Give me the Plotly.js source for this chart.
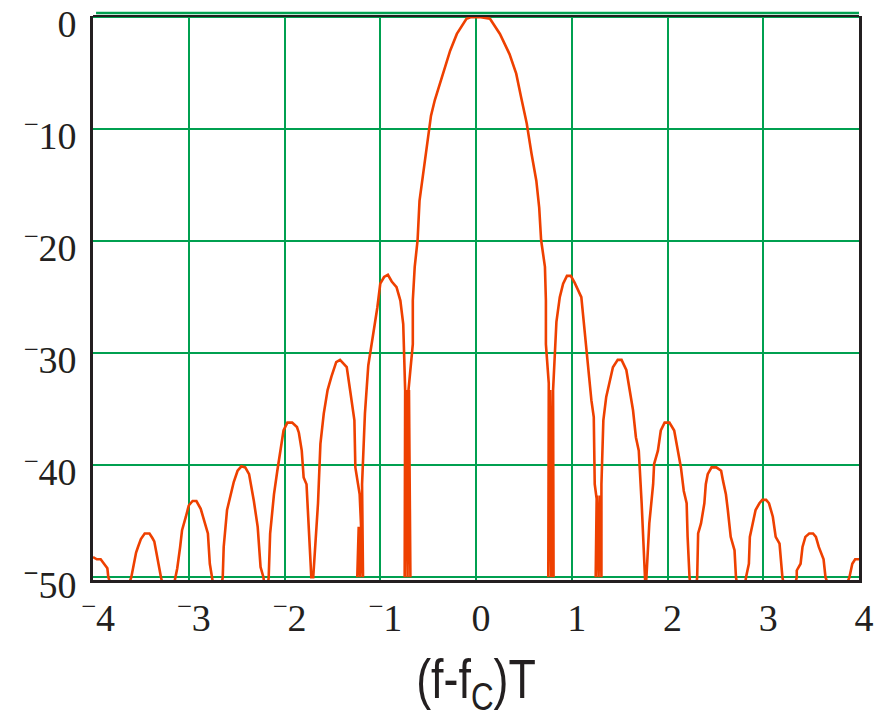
<!DOCTYPE html>
<html>
<head>
<meta charset="utf-8">
<script src="https://cdn.plot.ly/plotly-3.0.1.min.js"></script>
<style>html,body{margin:0;padding:0;background:#fff;}#chart{width:883px;height:724px;}</style>
</head>
<body>
<div id="chart"></div>
<script>
// Normalized frequency (f - fc)T
var freq = [
  -4.00,-3.96,-3.92,-3.88,-3.85,-3.84,-3.72,
  -3.60,-3.57,-3.55,-3.53,-3.50,-3.46,-3.41,-3.38,-3.36,-3.34,-3.31,-3.29,-3.21,
  -3.135,-3.12,-3.09,-3.07,-3.03,-3.00,-2.96,-2.92,-2.875,-2.84,-2.80,-2.78,-2.76,-2.70,
  -2.645,-2.635,-2.60,-2.56,-2.53,-2.49,-2.45,-2.41,-2.37,-2.32,-2.28,-2.25,-2.22,-2.19,
  -2.165,-2.15,-2.11,-2.075,-2.04,-2.01,-1.97,-1.92,-1.87,-1.85,-1.82,-1.80,-1.77,-1.74,-1.72,-1.71,
  -1.70,-1.65,-1.625,-1.59,-1.55,-1.51,-1.46,-1.42,-1.38,-1.35,-1.31,-1.27,-1.26,-1.215,-1.20,
  -1.24,-1.225,-1.21,-1.195,-1.18,
  -1.19,-1.16,-1.125,-1.07,-1.03,-1.00,-0.96,-0.92,-0.88,-0.83,-0.79,-0.76,-0.74,
  -0.745,-0.73,-0.715,-0.70,-0.685,
  -0.705,-0.66,-0.66,-0.64,-0.61,-0.59,-0.55,-0.52,-0.49,-0.47,-0.43,-0.39,-0.34,-0.27,-0.20,-0.10,-0.05,
  0.05,0.146,0.25,0.35,0.42,0.47,0.53,0.58,0.63,0.66,0.68,0.72,0.73,0.73,0.76,
  0.755,0.77,0.785,0.80,0.81,
  0.805,0.84,0.875,0.91,0.95,0.99,1.03,1.10,1.135,1.17,1.205,1.23,1.24,1.26,
  1.25,1.265,1.28,1.295,1.31,
  1.31,1.33,1.36,1.40,1.43,1.48,1.52,1.57,1.60,1.64,1.67,1.70,1.73,1.76,1.77,
  1.78,1.80,1.81,1.85,1.86,1.90,1.93,1.97,2.02,2.07,2.11,2.14,2.17,2.20,2.21,2.23,2.27,
  2.31,2.32,2.35,2.385,2.40,2.42,2.46,2.51,2.56,2.58,2.61,2.63,2.66,2.70,2.715,2.77,
  2.82,2.85,2.86,2.89,2.92,2.96,2.99,3.03,3.06,3.10,3.13,3.17,3.20,3.27,
  3.35,3.35,3.39,3.41,3.44,3.48,3.52,3.55,3.58,3.63,3.65,3.77,
  3.90,3.93,3.96,4.00
];
// Power spectral density, dB
var psd = [
  -48.2,-48.4,-48.4,-48.8,-49.2,-50,-53,
  -50,-48.5,-47.8,-47.3,-46.6,-46.1,-46.1,-46.5,-46.8,-47.7,-49.1,-50,-53,
  -50,-49.2,-47.3,-45.8,-44.6,-43.6,-43.2,-43.2,-43.9,-44.9,-46.1,-48.8,-50,-53,
  -50,-47.3,-44.0,-42.6,-41.5,-40.5,-40.1,-40.2,-40.8,-43.2,-45.5,-49.1,-50,-52,
  -50,-46.1,-42.6,-40.5,-38.7,-36.9,-36.2,-36.2,-36.6,-37.1,-38.7,-41.1,-41.7,-46.4,-50,-50,
  -50,-43.4,-38.1,-35.4,-33.3,-32.1,-30.8,-30.6,-31.0,-31.25,-33.6,-36.0,-40.2,-42.6,-45.5,
  -50,-45.5,-50,-45.5,-50,
  -41.7,-35.4,-31.1,-28.3,-25.9,-23.8,-23.2,-23.0,-23.6,-24.1,-25.3,-27.4,-33.3,
  -50,-33.3,-50,-33.3,-50,
  -33.3,-29.2,-25.3,-22.3,-19.9,-16.4,-14.0,-12.2,-10.1,-8.8,-7.4,-6.25,-4.8,-3.0,-1.5,-0.15,0,
  0,-0.15,-1.5,-3.3,-5.05,-7.1,-9.5,-12.2,-14.6,-17.0,-19.9,-22.3,-25.3,-29.2,-32.7,
  -50,-33.3,-50,-33.3,-50,
  -33.3,-27.2,-25.0,-23.8,-23.1,-23.1,-23.7,-25.0,-28.3,-30.9,-34.2,-35.7,-41.7,-43.0,
  -50,-42.7,-50,-42.7,-50,
  -41.7,-36.0,-33.9,-32.4,-31.25,-30.6,-30.6,-31.5,-33.0,-35.1,-37.5,-38.7,-43.4,-50,-51,
  -50,-46.4,-45.2,-41.7,-39.9,-38.7,-36.9,-36.2,-36.2,-36.9,-38.7,-40.2,-42.3,-43.4,-46.4,-50,-53,
  -50,-46.1,-45.2,-43.4,-41.7,-40.8,-40.2,-40.2,-40.5,-41.4,-42.6,-44.0,-46.4,-47.6,-50,-53,
  -50,-48.8,-46.4,-45.2,-44.0,-43.4,-43.1,-43.1,-43.4,-44.6,-46.4,-47.0,-50,-53,
  -50,-49.4,-48.8,-47.3,-46.4,-46.1,-46.1,-46.4,-47.3,-48.4,-50,-53,
  -50,-48.8,-48.4,-48.4
];
var xTickVals = [-4,-3,-2,-1,0,1,2,3,4];
var xTickText = ['<sup>−</sup>4','<sup>−</sup>3','<sup>−</sup>2','<sup>−</sup>1','0','1','2','3','4'];
var yTickVals = [0,-10,-20,-30,-40,-50];
var yTickText = ['0','<sup>−</sup>10','<sup>−</sup>20','<sup>−</sup>30','<sup>−</sup>40','<sup><b>−</b></sup>50'];
var xTitle = '(f-f<sub>C</sub>)T';

var trace = {
  x: freq, y: psd, type: 'scatter', mode: 'lines',
  line: {color: '#EE4000', width: 2.6},
  hoverinfo: 'skip'
};
var tickFont = {family: 'Liberation Serif', size: 38, color: '#231F20'};
var layout = {
  width: 883, height: 724,
  margin: {l: 93, r: 24, t: 16, b: 144},
  paper_bgcolor: '#ffffff', plot_bgcolor: '#ffffff',
  showlegend: false,
  xaxis: {
    range: [-4, 4], tickvals: xTickVals, ticktext: xTickText,
    showgrid: true, gridcolor: '#00A050', gridwidth: 2,
    zeroline: false, showline: true, linecolor: '#231F20', linewidth: 3, mirror: false,
    ticks: 'outside', ticklen: 2, tickcolor: 'rgba(0,0,0,0)', ticklabelshift: 5,
    tickfont: tickFont,
    title: {text: xTitle, font: {family: 'Liberation Sans', size: 56, color: '#231F20'}, standoff: 22},
    automargin: false
  },
  yaxis: {
    range: [-50.25, 0.1], tickvals: yTickVals, ticktext: yTickText,
    showgrid: true, gridcolor: '#00A050', gridwidth: 2,
    zeroline: false, showline: true, linecolor: '#231F20', linewidth: 3, mirror: true,
    ticks: 'outside', ticklen: 6, tickcolor: 'rgba(0,0,0,0)', ticklabelshift: 7,
    tickfont: tickFont,
    automargin: false
  },
  shapes: [
    {type: 'line', xref: 'paper', yref: 'paper', x0: 0, x1: 1, y0: 1, y1: 1, line: {color: '#231F20', width: 2}, layer: 'above'},
    {type: 'line', xref: 'paper', yref: 'paper', x0: 0.004, x1: 1, y0: 1.0055, y1: 1.0055, line: {color: '#00A050', width: 2.5}, layer: 'above'}
  ]
};
Plotly.newPlot('chart', [trace], layout, {staticPlot: true, displayModeBar: false}).then(function (gd) {
  // condense the axis title horizontally, like the narrow face of the original
  var t = gd.querySelector('.xtitle');
  if (t) {
    var cx = parseFloat(t.getAttribute('x')) || 0;
    var prev = t.getAttribute('transform') || '';
    t.setAttribute('transform', prev + ' translate(' + cx + ',0) scale(0.8,1) translate(' + (-cx) + ',0)');
  }
});
</script>
</body>
</html>
